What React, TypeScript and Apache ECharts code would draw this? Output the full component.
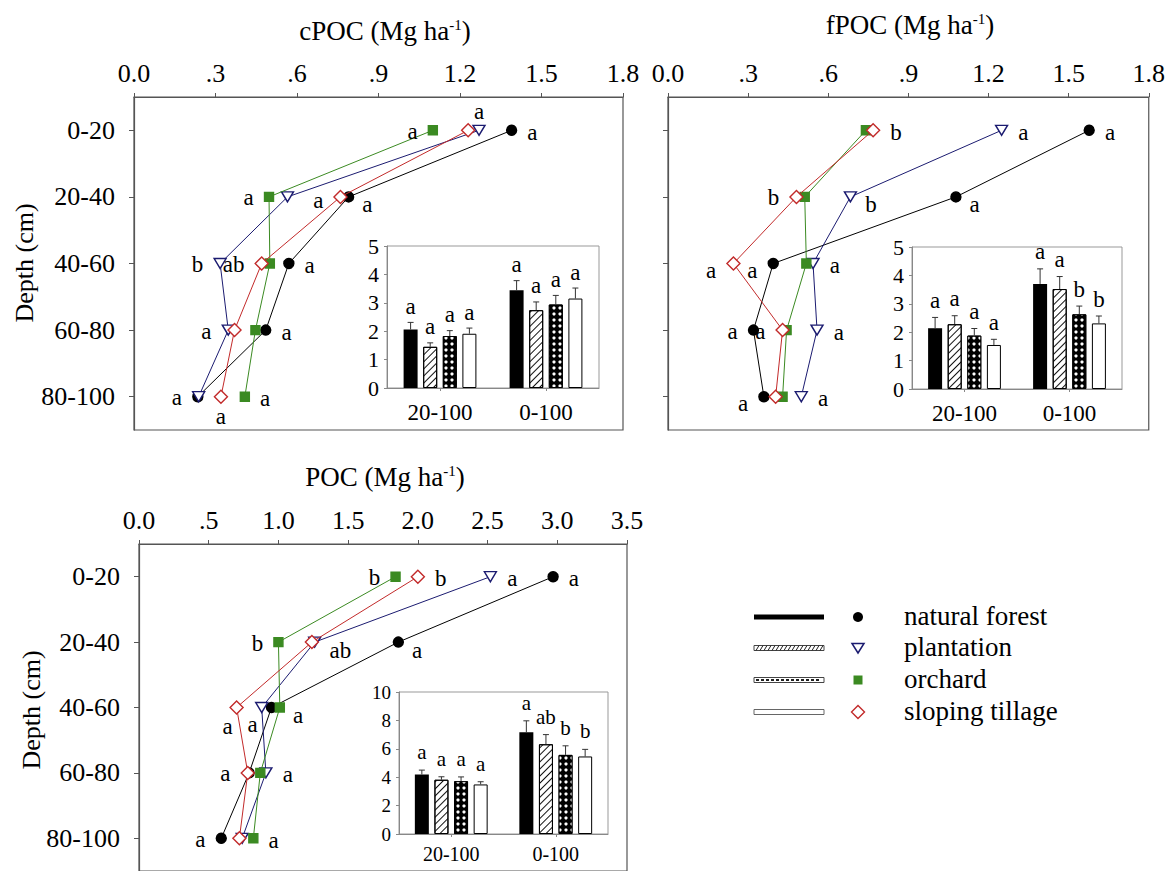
import React, { useEffect, useRef } from 'react';
import * as echarts from 'echarts';

// ---------------- data ----------------
const DEPTHS = ['0-20', '20-40', '40-60', '60-80', '80-100'];
const LAND_USES = ['natural forest', 'plantation', 'orchard', 'sloping tillage'];
const INSET_CATEGORIES = ['20-100', '0-100'];

// cPOC (Mg ha-1) by depth
const cpocForest = [1.39, 0.79, 0.57, 0.485, 0.235];
const cpocPlantation = [1.27, 0.565, 0.317, 0.347, 0.238];
const cpocOrchard = [1.10, 0.497, 0.50, 0.447, 0.408];
const cpocTillage = [1.23, 0.76, 0.47, 0.37, 0.32];
const cpocForestSig = ['a', 'a', 'a', 'a', ''];
const cpocPlantationSig = ['a', 'a', 'b', 'a', 'a'];
const cpocOrchardSig = ['a', 'a', '', '', 'a'];
const cpocTillageSig = ['', '', 'ab', '', 'a'];

// fPOC (Mg ha-1) by depth
const fpocForest = [1.577, 1.078, 0.394, 0.320, 0.359];
const fpocPlantation = [1.249, 0.683, 0.543, 0.558, 0.499];
const fpocOrchard = [0.741, 0.512, 0.518, 0.444, 0.429];
const fpocTillage = [0.768, 0.481, 0.245, 0.429, 0.403];
const fpocForestSig = ['a', 'a', 'a', 'a', 'a'];
const fpocPlantationSig = ['a', 'b', 'a', 'a', 'a'];
const fpocOrchardSig = ['', '', '', '', ''];
const fpocTillageSig = ['b', 'b', 'a', 'a', ''];

// POC (Mg ha-1) by depth
const pocForest = [2.97, 1.86, 0.95, 0.79, 0.59];
const pocPlantation = [2.52, 1.26, 0.88, 0.91, 0.74];
const pocOrchard = [1.84, 1.00, 1.01, 0.87, 0.82];
const pocTillage = [2.00, 1.24, 0.70, 0.78, 0.72];
const pocForestSig = ['a', 'a', '', '', 'a'];
const pocPlantationSig = ['a', 'ab', 'a', 'a', ''];
const pocOrchardSig = ['b', 'b', 'a', '', 'a'];
const pocTillageSig = ['b', '', 'a', 'a', ''];

// inset stocks [20-100, 0-100], with standard errors
const cpocStockForest = [2.06, 3.44];
const cpocStockPlantation = [1.45, 2.74];
const cpocStockOrchard = [1.83, 2.94];
const cpocStockTillage = [1.91, 3.15];
const cpocErrForest = [0.25, 0.34];
const cpocErrPlantation = [0.14, 0.29];
const cpocErrOrchard = [0.19, 0.32];
const cpocErrTillage = [0.20, 0.37];
const cpocStockSig = [['a', 'a'], ['a', 'a'], ['a', 'a'], ['a', 'a']];

const fpocStockForest = [2.14, 3.70];
const fpocStockPlantation = [2.28, 3.52];
const fpocStockOrchard = [1.88, 2.63];
const fpocStockTillage = [1.55, 2.31];
const fpocErrForest = [0.38, 0.53];
const fpocErrPlantation = [0.30, 0.44];
const fpocErrOrchard = [0.25, 0.29];
const fpocErrTillage = [0.20, 0.26];
const fpocStockSig = [['a', 'a'], ['a', 'a'], ['a', 'b'], ['a', 'b']];

const pocStockForest = [4.19, 7.17];
const pocStockPlantation = [3.82, 6.32];
const pocStockOrchard = [3.72, 5.57];
const pocStockTillage = [3.49, 5.46];
const pocErrForest = [0.31, 0.80];
const pocErrPlantation = [0.21, 0.68];
const pocErrOrchard = [0.30, 0.64];
const pocErrTillage = [0.19, 0.50];
const pocStockSig = [['a', 'a'], ['a', 'ab'], ['a', 'b'], ['a', 'b']];

// ---------------- layout / style ----------------
const cpocPlace = [
  ['r', 'rb', 'r', 'r', ''],
  ['t', 'rf', 'l', 'l', 'l'],
  ['l', 'l', '', '', 'r'],
  ['', '', 'l', '', 'b'],
];
const fpocPlace = [
  ['r', 'rb', 'lb', 'l', 'lb'],
  ['r', 'rb', 'r', 'r', 'r'],
  ['', '', '', '', ''],
  ['r', 'l', 'lb', 'l', ''],
];
const pocPlace = [
  ['r', 'rb', '', '', 'l'],
  ['r', 'rb', 'bl', 'r', ''],
  ['l', 'l', 'rb', '', 'r'],
  ['r', '', 'bl', 'l', ''],
];

const FONT = '"Liberation Serif", "Times New Roman", serif';
const SERIF = 'Liberation Serif';
const COLORS = ['#000000', '#1b1b70', '#3b8a22', '#c22a2a'];
const AXIS_COLOR = '#555';

const PLACE: Record<string, any> = {
  r: { position: 'right', distance: 10, offset: [0, 2] },
  rf: { position: 'right', distance: 19, offset: [0, 4] },
  rb: { position: 'right', distance: 8, offset: [0, 8] },
  l: { position: 'left', distance: 10, offset: [0, 1] },
  lb: { position: 'left', distance: 10, offset: [0, 7] },
  t: { position: 'top', distance: 2, offset: [0, 0] },
  b: { position: 'bottom', distance: 1, offset: [0, 0] },
  bl: { position: 'bottom', distance: 0, offset: [-9, 0] },
};

const SYMBOLS = [
  { symbol: 'circle', symbolSize: 10, symbolRotate: 0, fill: '#000', stroke: '#000' },
  { symbol: 'triangle', symbolSize: [12, 10], symbolRotate: 180, fill: '#fff', stroke: COLORS[1] },
  { symbol: 'rect', symbolSize: 9, symbolRotate: 0, fill: COLORS[2], stroke: COLORS[2] },
  { symbol: 'diamond', symbolSize: 13, symbolRotate: 0, fill: '#fff', stroke: COLORS[3] },
];

const BAR_W = 14;
const BAR_GAP_PX = 5.6;
const GROUP_W = 4 * BAR_W + 3 * BAR_GAP_PX;
const OFFSETS = [0, 1, 2, 3].map((i) => -GROUP_W / 2 + BAR_W / 2 + i * (BAR_W + BAR_GAP_PX));

const BAR_STYLES: any[] = [
  { color: '#000' },
  {
    color: '#fff', borderColor: '#000', borderWidth: 1,
    decal: { symbol: 'rect', symbolSize: 1, color: '#111', dashArrayX: [1, 0], dashArrayY: [1, 4], rotation: -Math.PI / 4 },
  },
  {
    color: '#000', borderColor: '#000', borderWidth: 1,
    decal: { symbol: 'circle', symbolSize: 0.8, color: '#fff', dashArrayX: [4, 1.5], dashArrayY: [4, 1.5], rotation: 0 },
  },
  { color: '#fff', borderColor: '#000', borderWidth: 1 },
];

function fmtTick(v: number) {
  const s = v.toFixed(1);
  return v > 0 && v < 1 ? s.slice(1) : s;
}

function profileSeries(idx: number, values: number[][], sigs: string[][], places: string[][]) {
  return values.map((vals, k) => ({
    type: 'line',
    name: LAND_USES[k],
    xAxisIndex: idx,
    yAxisIndex: idx,
    symbol: SYMBOLS[k].symbol,
    symbolSize: SYMBOLS[k].symbolSize,
    symbolRotate: SYMBOLS[k].symbolRotate,
    showAllSymbol: true,
    z: 3 + k,
    lineStyle: { color: COLORS[k], width: 1 },
    itemStyle: { color: SYMBOLS[k].fill, borderColor: SYMBOLS[k].stroke, borderWidth: 1.4 },
    data: vals.map((v, i) => {
      const letter = sigs[k][i];
      return {
        value: [v, i],
        label: letter
          ? { show: true, formatter: letter, color: '#000', fontSize: 23, fontFamily: FONT, ...PLACE[places[k][i]] }
          : { show: false },
      };
    }),
  }));
}

function insetSeries(idx: number, vals: number[][], errs: number[][], sigs: string[][], fontSize: number, letterGap: number) {
  const bars = vals.map((v, k) => ({
    type: 'bar',
    name: LAND_USES[k],
    xAxisIndex: idx,
    yAxisIndex: idx,
    barWidth: BAR_W,
    barGap: (BAR_GAP_PX / BAR_W) * 100 + '%',
    itemStyle: BAR_STYLES[k],
    z: 5,
    data: v,
  }));
  const items: number[][] = [];
  const letters: string[] = [];
  vals.forEach((v, k) => {
    v.forEach((val, c) => {
      items.push([c, val, errs[k][c], k]);
      letters.push(sigs[k][c]);
    });
  });
  const err = {
    type: 'custom',
    xAxisIndex: idx,
    yAxisIndex: idx,
    z: 6,
    encode: { x: 0, y: 1 },
    data: items,
    renderItem: (params: any, api: any) => {
      const c = api.value(0);
      const v = api.value(1);
      const e = api.value(2);
      const k = api.value(3);
      const p0 = api.coord([c, v]);
      const p1 = api.coord([c, v + e]);
      const x = p0[0] + OFFSETS[k];
      return {
        type: 'group',
        children: [
          { type: 'line', shape: { x1: x, y1: p0[1], x2: x, y2: p1[1] }, style: { stroke: '#333', lineWidth: 1 } },
          { type: 'line', shape: { x1: x - 3, y1: p1[1], x2: x + 3, y2: p1[1] }, style: { stroke: '#333', lineWidth: 1 } },
          {
            type: 'text', x, y: p1[1] - letterGap,
            style: {
              text: letters[params.dataIndex], align: 'center', verticalAlign: 'middle',
              fontSize, fontFamily: SERIF, fill: '#000',
            },
          },
        ],
      };
    },
  };
  return [...bars, err];
}

function mainXAxis(gridIndex: number, max: number, interval: number) {
  return {
    type: 'value', gridIndex, position: 'top', min: 0, max, interval,
    axisLine: { show: true, lineStyle: { color: AXIS_COLOR, width: 1.2 } },
    axisTick: { show: true, length: 4, lineStyle: { color: AXIS_COLOR } },
    axisLabel: { show: true, formatter: fmtTick, fontSize: 26, fontFamily: FONT, color: '#000', margin: 11 },
    splitLine: { show: false },
  };
}
function mainYAxis(gridIndex: number, showLabels: boolean) {
  return {
    type: 'category', gridIndex, data: DEPTHS, inverse: true, boundaryGap: true,
    axisLine: { show: true, lineStyle: { color: AXIS_COLOR, width: 1.2 } },
    axisTick: { show: true, alignWithLabel: true, length: 5, lineStyle: { color: AXIS_COLOR } },
    axisLabel: { show: showLabels, fontSize: 26, fontFamily: FONT, color: '#000', margin: 19 },
    splitLine: { show: false },
  };
}
function insetXAxis(gridIndex: number, fontSize: number, margin: number) {
  return {
    type: 'category', gridIndex, data: INSET_CATEGORIES, position: 'bottom',
    axisLine: { show: true, lineStyle: { color: '#888' } },
    axisTick: { show: true, alignWithLabel: true, length: 3, lineStyle: { color: '#888' } },
    axisLabel: { fontSize, fontFamily: FONT, color: '#000', margin },
  };
}
function insetYAxis(gridIndex: number, max: number, interval: number, fontSize: number) {
  return {
    type: 'value', gridIndex, min: 0, max, interval,
    axisLine: { show: true, lineStyle: { color: '#888' } },
    axisTick: { show: true, length: 3, lineStyle: { color: '#888' } },
    axisLabel: { fontSize, fontFamily: FONT, color: '#000', margin: 8 },
    splitLine: { show: false },
  };
}

function title(name: string, x: number, y: number) {
  return {
    type: 'text', x, y, z: 10,
    style: {
      text: `{m|${name} (Mg ha}{s|-1}{m|)}`,
      align: 'center', verticalAlign: 'middle',
      rich: {
        m: { fontSize: 27, fontFamily: SERIF, fill: '#000' },
        s: { fontSize: 15, fontFamily: SERIF, fill: '#000', verticalAlign: 'top' },
      },
    },
  };
}
function depthLabel(x: number, y: number) {
  return {
    type: 'text', x, y, rotation: Math.PI / 2, z: 10,
    style: { text: 'Depth (cm)', align: 'center', verticalAlign: 'middle', fontSize: 26, fontFamily: SERIF, fill: '#000' },
  };
}

function legendGraphics() {
  const rows = [617, 648, 680, 712];
  const g: any[] = [];
  const lx = 754, lw = 70, lh = 5;
  // natural forest
  g.push({ type: 'rect', shape: { x: lx, y: rows[0] - 2.5, width: lw, height: lh }, style: { fill: '#000' } });
  // plantation hatched
  g.push({ type: 'rect', shape: { x: lx, y: rows[1] - 2.5, width: lw, height: lh }, style: { fill: '#fff', stroke: '#444', lineWidth: 1 } });
  for (let x = lx + 2; x < lx + lw - 2; x += 4) {
    g.push({ type: 'line', shape: { x1: x, y1: rows[1] + 2.5, x2: x + 3, y2: rows[1] - 2.5 }, style: { stroke: '#222', lineWidth: 1 } });
  }
  // orchard checkered
  g.push({ type: 'rect', shape: { x: lx, y: rows[2] - 2.5, width: lw, height: lh }, style: { fill: '#fff', stroke: '#444', lineWidth: 1 } });
  for (let x = lx + 2; x < lx + lw - 3; x += 5) {
    g.push({ type: 'rect', shape: { x, y: rows[2] - 1, width: 3, height: 2 }, style: { fill: '#222' } });
  }
  // sloping tillage
  g.push({ type: 'rect', shape: { x: lx, y: rows[3] - 2.5, width: lw, height: lh }, style: { fill: '#fff', stroke: '#666', lineWidth: 1 } });

  const mx = 858;
  g.push({ type: 'circle', shape: { cx: mx, cy: rows[0], r: 5 }, style: { fill: '#000' } });
  g.push({ type: 'polygon', shape: { points: [[mx - 6, rows[1] - 4.5], [mx + 6, rows[1] - 4.5], [mx, rows[1] + 5]] }, style: { fill: '#fff', stroke: COLORS[1], lineWidth: 1.5 } });
  g.push({ type: 'rect', shape: { x: mx - 4.5, y: rows[2] - 4.5, width: 9, height: 9 }, style: { fill: COLORS[2] } });
  g.push({ type: 'polygon', shape: { points: [[mx, rows[3] - 6.5], [mx + 6.5, rows[3]], [mx, rows[3] + 6.5], [mx - 6.5, rows[3]]] }, style: { fill: '#fff', stroke: COLORS[3], lineWidth: 1.4 } });

  LAND_USES.forEach((name, i) => {
    g.push({ type: 'text', x: 904, y: rows[i] - 1, style: { text: name, align: 'left', verticalAlign: 'middle', fontSize: 27, fontFamily: SERIF, fill: '#000' } });
  });
  return g;
}

export default function App() {
  const ref = useRef<HTMLDivElement>(null);
  useEffect(() => {
    if (!ref.current) return;
    const chart = echarts.init(ref.current, undefined, { renderer: 'svg' });
    const gridBase = { show: true, borderColor: AXIS_COLOR, borderWidth: 1.2, containLabel: false };
    const insetBase = { show: true, borderColor: '#999', borderWidth: 1, backgroundColor: '#fff', containLabel: false };
    const option: any = {
      animation: false,
      backgroundColor: '#fff',
      textStyle: { fontFamily: FONT },
      grid: [
        { ...gridBase, left: 134, top: 97, width: 489, height: 333 },
        { ...gridBase, left: 668, top: 97, width: 484, height: 333 },
        { ...gridBase, left: 139, top: 544, width: 488, height: 333 },
        { ...insetBase, left: 387, top: 246, width: 212, height: 142 },
        { ...insetBase, left: 912, top: 247, width: 210, height: 142 },
        { ...insetBase, left: 399, top: 692, width: 209, height: 142 },
      ],
      xAxis: [
        mainXAxis(0, 1.8, 0.3),
        mainXAxis(1, 1.8, 0.3),
        mainXAxis(2, 3.5, 0.5),
        insetXAxis(3, 23, 13),
        insetXAxis(4, 23, 13),
        insetXAxis(5, 20, 10),
      ],
      yAxis: [
        mainYAxis(0, true),
        mainYAxis(1, false),
        mainYAxis(2, true),
        insetYAxis(3, 5, 1, 22),
        insetYAxis(4, 5, 1, 22),
        insetYAxis(5, 10, 2, 19),
      ],
      series: [
        ...profileSeries(0, [cpocForest, cpocPlantation, cpocOrchard, cpocTillage],
          [cpocForestSig, cpocPlantationSig, cpocOrchardSig, cpocTillageSig], cpocPlace),
        ...profileSeries(1, [fpocForest, fpocPlantation, fpocOrchard, fpocTillage],
          [fpocForestSig, fpocPlantationSig, fpocOrchardSig, fpocTillageSig], fpocPlace),
        ...profileSeries(2, [pocForest, pocPlantation, pocOrchard, pocTillage],
          [pocForestSig, pocPlantationSig, pocOrchardSig, pocTillageSig], pocPlace),
        ...insetSeries(3, [cpocStockForest, cpocStockPlantation, cpocStockOrchard, cpocStockTillage],
          [cpocErrForest, cpocErrPlantation, cpocErrOrchard, cpocErrTillage], cpocStockSig, 23, 16),
        ...insetSeries(4, [fpocStockForest, fpocStockPlantation, fpocStockOrchard, fpocStockTillage],
          [fpocErrForest, fpocErrPlantation, fpocErrOrchard, fpocErrTillage], fpocStockSig, 23, 17),
        ...insetSeries(5, [pocStockForest, pocStockPlantation, pocStockOrchard, pocStockTillage],
          [pocErrForest, pocErrPlantation, pocErrOrchard, pocErrTillage], pocStockSig, 21, 18),
      ],
      graphic: [
        title('cPOC', 385, 31),
        title('fPOC', 910, 25),
        title('POC', 385, 477),
        depthLabel(24, 263),
        depthLabel(31, 710),
        ...legendGraphics(),
      ],
    };
    chart.setOption(option);
    return () => chart.dispose();
  }, []);
  return (
    <div
      ref={ref}
      style={{ position: 'fixed', left: 0, top: 0, width: 1168, height: 871, background: '#fff' }}
    />
  );
}
